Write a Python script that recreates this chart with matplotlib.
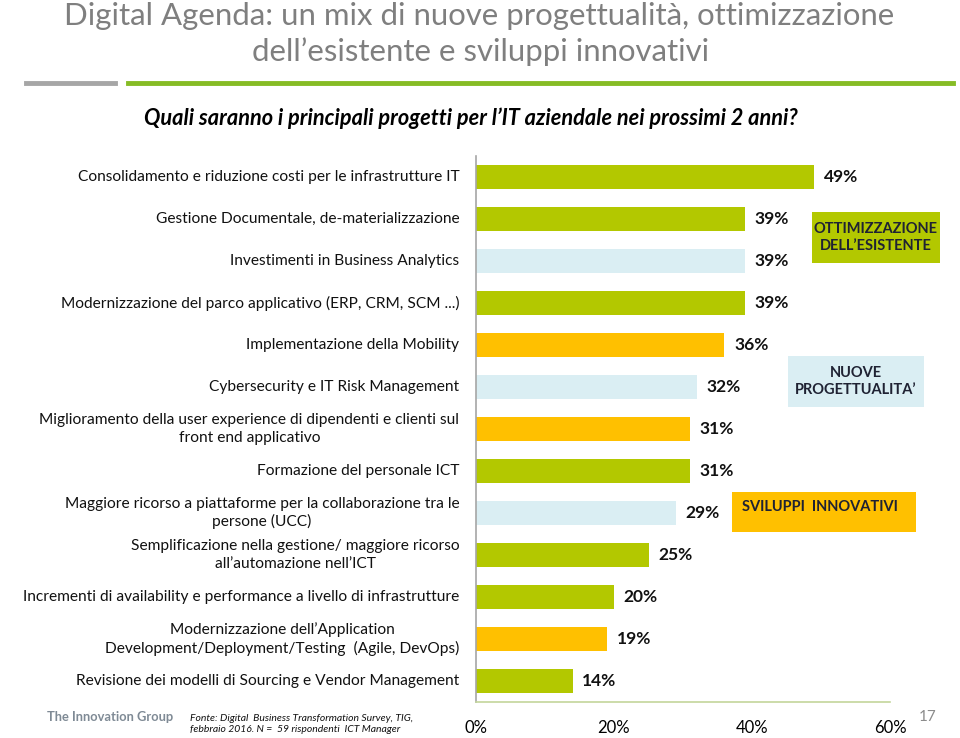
import matplotlib
matplotlib.use("Agg")
import matplotlib.pyplot as plt
from matplotlib.patches import Rectangle

plt.rcParams['font.family'] = ['Lato', 'DejaVu Sans']

W, H = 960, 738

categories = [
    "Consolidamento e riduzione costi per le infrastrutture IT",
    "Gestione Documentale, de-materializzazione",
    "Investimenti in Business Analytics",
    "Modernizzazione del parco applicativo (ERP, CRM, SCM ...)",
    "Implementazione della Mobility",
    "Cybersecurity e IT Risk Management",
    "Miglioramento della user experience di dipendenti e clienti sul\nfront end applicativo",
    "Formazione del personale ICT",
    "Maggiore ricorso a piattaforme per la collaborazione tra le\npersone (UCC)",
    "Semplificazione nella gestione/ maggiore ricorso\nall\u2019automazione nell\u2019ICT",
    "Incrementi di availability e performance a livello di infrastrutture",
    "Modernizzazione dell\u2019Application\nDevelopment/Deployment/Testing  (Agile, DevOps)",
    "Revisione dei modelli di Sourcing e Vendor Management",
]
values = [49, 39, 39, 39, 36, 32, 31, 31, 29, 25, 20, 19, 14]
groups = ["opt", "opt", "new", "opt", "inn", "new", "inn", "opt", "new", "opt", "opt", "inn", "opt"]

GREEN = "#B3C800"
BLUE = "#DAEEF3"
ORANGE = "#FFC000"
group_colors = {"opt": GREEN, "new": BLUE, "inn": ORANGE}
TEXT_DARK = "#1F2233"


def px(x, y):
    return x / W, 1 - y / H


fig = plt.figure(figsize=(9.6, 7.38), dpi=100)
fig.patch.set_facecolor("white")

# chart area
ax = fig.add_axes([476 / W, 1 - 702 / H, 414 / W, 546 / H])
ypos = list(range(len(values)))
ax.barh(ypos, values, height=0.55,
        color=[group_colors[g] for g in groups])
ax.set_xlim(0, 60)
ax.set_ylim(len(values) - 0.5, -0.5)
ax.set_yticks([])
ax.set_xticks([0, 20, 40, 60])
ax.set_xticklabels(["0%", "20%", "40%", "60%"], fontsize=12)
ax.tick_params(axis="x", length=0, pad=13)
for s in ["top", "right"]:
    ax.spines[s].set_visible(False)
ax.spines["left"].set_color("#A6A6A6")
ax.spines["left"].set_linewidth(1.2)
ax.spines["bottom"].set_color("#C3D69B")
ax.spines["bottom"].set_linewidth(1.2)

for i, v in enumerate(values):
    ax.annotate(f"{v}%", xy=(v, i), xytext=(7, 0), textcoords="offset points",
                ha="left", va="center", fontsize=12.5, fontweight="bold",
                color="#111111")

# category labels
for i, c in enumerate(categories):
    ax.annotate(c, xy=(0, i), xytext=(-12, 0), textcoords="offset points",
                ha="right", va="center", multialignment="center",
                fontsize=11.2, color="#111111", linespacing=1.3,
                annotation_clip=False)

# group boxes
boxes = [
    (812, 212, 940, 263, GREEN, "OTTIMIZZAZIONE\nDELL\u2019ESISTENTE", "center"),
    (788, 356, 924, 407, BLUE, "NUOVE\nPROGETTUALITA\u2019", "center"),
    (732, 492, 916, 532, ORANGE, "SVILUPPI  INNOVATIVI", "top"),
]
for x0, y0, x1, y1, col, txt, va in boxes:
    fx, fy = px(x0, y1)
    fig.patches.append(Rectangle((fx, fy), (x1 - x0) / W, (y1 - y0) / H,
                                 transform=fig.transFigure, facecolor=col,
                                 edgecolor="none", zorder=1))
    cx = (x0 + x1) / 2
    if va == "center":
        tx, ty = px(cx, (y0 + y1) / 2)
    else:
        tx, ty = px(cx - 4, y0 + 15)
    fig.text(tx, ty, txt, ha="center", va="center", fontsize=10.5,
             fontweight="bold", color=TEXT_DARK, linespacing=1.3, zorder=2)

# title
fig.text(*px(479, 16), "Digital Agenda: un mix di nuove progettualit\u00e0, ottimizzazione",
         ha="center", va="center", fontsize=22.4, color="#7F7F7F")
fig.text(*px(481, 52), "dell\u2019esistente e sviluppi innovativi",
         ha="center", va="center", fontsize=22.4, color="#7F7F7F")

# separator line under the title
fig.add_artist(plt.Line2D([26 / W, 115 / W], [1 - 83 / H] * 2, color="#A6A6A6",
                          linewidth=3.5, transform=fig.transFigure))
fig.add_artist(plt.Line2D([128 / W, 953 / W], [1 - 83 / H] * 2, color="#86BC25",
                          linewidth=3.5, transform=fig.transFigure))

fig.text(*px(471, 118),
         "Quali saranno i principali progetti per l\u2019IT aziendale nei prossimi 2 anni?",
         ha="center", va="center", fontsize=15.7, fontweight="bold",
         fontstyle="italic", color="#000000")

# footer
fig.text(*px(47, 717), "The Innovation Group", ha="left", va="center",
         fontsize=9.3, fontweight="bold", color="#7F8A95")
fig.text(*px(190, 724),
         "Fonte: Digital  Business Transformation Survey, TIG,\nfebbraio 2016. N =  59 rispondenti  ICT Manager",
         ha="left", va="center", fontsize=7.5, fontstyle="italic",
         color="#111111", linespacing=1.3)
fig.text(*px(928, 717), "17", ha="center", va="center", fontsize=11,
         color="#8C8C8C")

fig.savefig("out.png", dpi=100, facecolor="white")
